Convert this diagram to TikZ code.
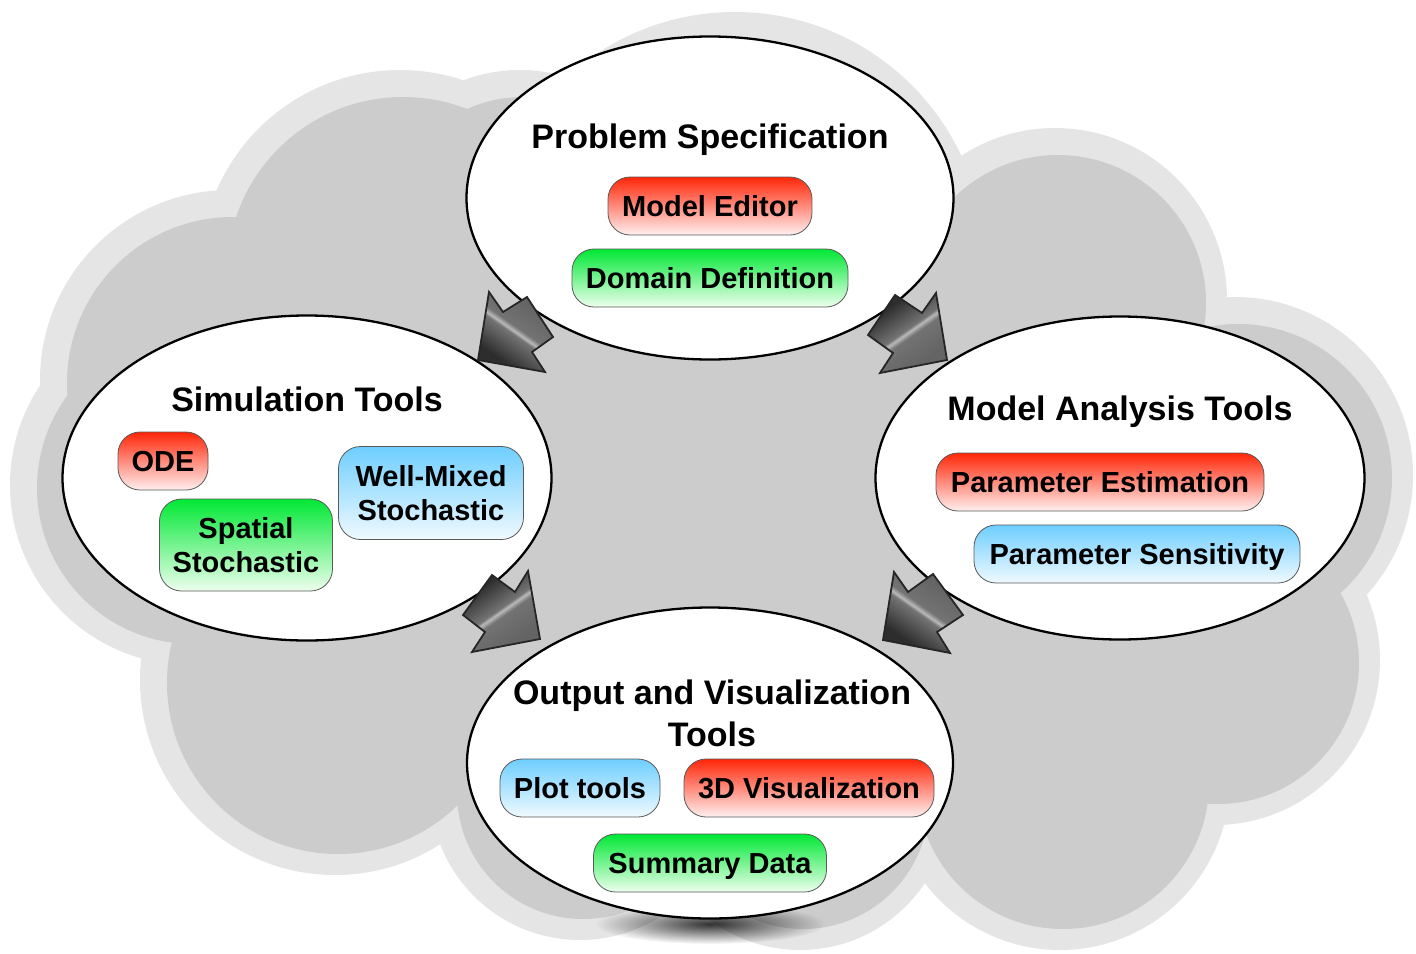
\documentclass[tikz,border=0pt]{standalone}
\usepackage{fontspec}
\setmainfont{Liberation Sans}
\usetikzlibrary{shapes.geometric,fadings}

\definecolor{cloudlight}{RGB}{229,229,229}
\definecolor{clouddark}{RGB}{204,204,204}
\definecolor{pillred}{RGB}{255,38,8}
\definecolor{pillredlow}{RGB}{255,240,240}
\definecolor{pillgreen}{RGB}{0,232,52}
\definecolor{pillgreenlow}{RGB}{238,255,238}
\definecolor{pillblue}{RGB}{110,206,255}
\definecolor{pillbluelow}{RGB}{240,250,255}
\definecolor{arrdark}{RGB}{45,45,45}
\definecolor{arrmid}{RGB}{115,115,115}
\definecolor{arrlight}{RGB}{185,185,185}
\definecolor{arrside}{RGB}{100,100,100}

\pgfdeclarehorizontalshading{arrowshade}{100bp}{color(0bp)=(arrdark); color(30bp)=(arrdark); color(48bp)=(arrmid); color(50bp)=(arrlight); color(53bp)=(arrmid); color(70bp)=(arrside); color(100bp)=(arrside)}

\tikzfading[name=shadowfade, inner color=transparent!0, outer color=transparent!100]

\tikzset{
  bubble/.style={ellipse, draw=black, line width=2.3pt, fill=white, inner sep=0pt},
  pill/.style={draw=black!65, line width=0.8pt, rounded corners=22pt, minimum height=58pt,
    inner xsep=4pt, inner ysep=0pt, align=center, text height=21pt, text depth=0pt,
    font=\fontsize{29}{34}\selectfont\bfseries},
  twolines/.style={text height=55pt, text depth=0pt},
  redpill/.style={pill, top color=pillred, bottom color=pillredlow},
  greenpill/.style={pill, top color=pillgreen, bottom color=pillgreenlow},
  bluepill/.style={pill, top color=pillblue, bottom color=pillbluelow},
  title/.style={font=\fontsize{34}{42}\selectfont\bfseries, align=center, inner sep=0pt,
    text height=24pt, text depth=0pt},
  blockarrow/.style={draw=black!85, line width=1.8pt, line join=miter, shading=arrowshade}
}

\begin{document}
\begin{tikzpicture}[x=1pt,y=-1pt]
\useasboundingbox (0,0) rectangle (1416,953);

% cloud: outer light halo
\foreach \cx/\cy/\r in {400/270/200, 520/230/160, 230/380/190, 190/485/180, 335/680/195,
  580/790/150, 800/800/150, 1060/780/170, 1215/660/165, 1235/475/178, 1055/300/172,
  735/262/250, 1080/640/150}
  \fill[cloudlight] (\cx,\cy) circle [radius=\r];
\fill[cloudlight] (710,500) ellipse [x radius=430, y radius=280];
% cloud: inner darker body
\foreach \cx/\cy/\r in {400/270/200, 520/230/160, 230/380/190, 190/485/180, 335/680/195,
  580/790/150, 800/800/150, 1060/780/170, 1215/660/165, 1235/475/178, 1055/300/172,
  735/262/250, 1080/640/150}
  \fill[clouddark] (\cx+3,\cy+3) circle [radius=\r-24];
\fill[clouddark] (713,503) ellipse [x radius=406, y radius=256];

% shadow below the bottom ellipse
\fill[black, path fading=shadowfade, fill opacity=0.8] (710,924) ellipse [x radius=115, y radius=20];

% the four ellipses
\node[bubble, minimum width=487pt, minimum height=323pt] (spec) at (710,198) {};
\node[bubble, minimum width=489pt, minimum height=325pt] (sim) at (307,478) {};
\node[bubble, minimum width=489pt, minimum height=323pt] (ana) at (1120,478) {};
\node[bubble, minimum width=486pt, minimum height=311pt] (outp) at (710,763) {};

% block arrows
\shadedraw[blockarrow, shading angle=55] (478,360) -- (489,292) -- (503,312) -- (527,297)
  -- (553,337) -- (532,352) -- (545,372) -- cycle;
\shadedraw[blockarrow, shading angle=-55] (895,295) -- (922,313) -- (936,293) -- (947,360)
  -- (880,373) -- (893,353) -- (868,335) -- cycle;
\shadedraw[blockarrow, shading angle=-55] (492,575) -- (515,592) -- (528,571) -- (540,639)
  -- (472,652) -- (485,632) -- (463,615) -- cycle;
\shadedraw[blockarrow, shading angle=55] (883,640) -- (894,572) -- (908,592) -- (933,574)
  -- (963,615) -- (937,632) -- (950,653) -- cycle;

% titles
\node[title] (tspec) at (710,136) {Problem Specification};
\node[title] (tsim) at (307,399) {Simulation Tools};
\node[title] (tana) at (1120,408) {Model Analysis Tools};
\node[title, text height=66pt] (tout) at (712,713) {Output and Visualization\\Tools};

% pills
\node[redpill, minimum width=204pt] (medit) at (710,206) {Model Editor};
\node[greenpill, minimum width=276pt] (domdef) at (710,278) {Domain Definition};
\node[redpill, minimum width=90pt] (ode) at (163,461) {ODE};
\node[bluepill, twolines, minimum width=185pt, minimum height=93pt] (wms) at (431,493) {Well-Mixed\\Stochastic};
\node[greenpill, twolines, minimum width=173pt, minimum height=92pt] (sps) at (246,545) {Spatial\\Stochastic};
\node[redpill, minimum width=328pt] (pest) at (1100,482) {Parameter Estimation};
\node[bluepill, minimum width=326pt] (psens) at (1137,554) {Parameter Sensitivity};
\node[bluepill, minimum width=160pt] (plot) at (580,788) {Plot tools};
\node[redpill, minimum width=250pt] (viz3d) at (809,788) {3D Visualization};
\node[greenpill, minimum width=233pt] (sumd) at (710,863) {Summary Data};
\end{tikzpicture}
\end{document}
